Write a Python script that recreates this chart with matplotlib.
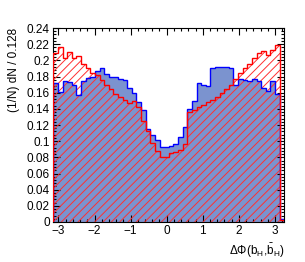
import numpy as np
import matplotlib
matplotlib.use("Agg")
import matplotlib.pyplot as plt
from matplotlib.ticker import MultipleLocator, FuncFormatter

plt.rcParams['font.family'] = ['Liberation Sans', 'DejaVu Sans']
plt.rcParams['mathtext.fontset'] = 'custom'
plt.rcParams['mathtext.rm'] = 'Liberation Sans'
plt.rcParams['mathtext.it'] = 'Liberation Sans:italic'
plt.rcParams['hatch.linewidth'] = 0.7

# 50 bins of width 0.128 starting at -pi
bin_start = -np.pi
bin_width = 0.128
n_bins = 50

blue_vals = [0.172, 0.161, 0.174, 0.173, 0.170, 0.157, 0.175, 0.178, 0.180, 0.187,
             0.190, 0.183, 0.180, 0.179, 0.177, 0.176, 0.166, 0.160, 0.148, 0.139,
             0.115, 0.108, 0.101, 0.093, 0.093, 0.094, 0.096, 0.105, 0.117, 0.140,
             0.150, 0.172, 0.170, 0.168, 0.190, 0.192, 0.192, 0.192, 0.191, 0.169,
             0.177, 0.176, 0.174, 0.177, 0.174, 0.166, 0.162, 0.175, 0.158, 0.004]

red_vals = [0.209, 0.216, 0.203, 0.210, 0.203, 0.206, 0.195, 0.190, 0.184, 0.182,
            0.176, 0.170, 0.164, 0.158, 0.155, 0.151, 0.147, 0.150, 0.142, 0.125,
            0.112, 0.098, 0.088, 0.081, 0.081, 0.085, 0.086, 0.089, 0.097, 0.136,
            0.139, 0.142, 0.145, 0.148, 0.151, 0.155, 0.159, 0.164, 0.169, 0.177,
            0.184, 0.190, 0.196, 0.203, 0.209, 0.211, 0.207, 0.213, 0.219, 0.003]

edges = bin_start + bin_width * np.arange(n_bins + 1)

fig = plt.figure(figsize=(3.05, 2.62), dpi=100)
ax = fig.add_axes([0.1748, 0.1527, 0.7573, 0.7403])

ax.stairs(blue_vals, edges, fill=True, facecolor='#7b93cf', edgecolor='none', linewidth=0, zorder=1)
ax.stairs(red_vals, edges, fill=True, facecolor='none', edgecolor='#ff3030', hatch='////', linewidth=0, zorder=2)
ax.stairs(blue_vals, edges, color='#0000ff', linewidth=1.0, zorder=3)
ax.stairs(red_vals, edges, color='#ff0000', linewidth=1.0, zorder=4)

ax.set_xlim(edges[0], edges[-1])
ax.set_ylim(0, 0.24)

ax.xaxis.set_major_locator(MultipleLocator(1))
ax.xaxis.set_minor_locator(MultipleLocator(0.2))
ax.yaxis.set_major_locator(MultipleLocator(0.02))
ax.yaxis.set_minor_locator(MultipleLocator(0.004))
ax.yaxis.set_major_formatter(FuncFormatter(lambda v, p: ('%g' % round(v, 3))))
ax.xaxis.set_major_formatter(FuncFormatter(lambda v, p: ('%g' % v).replace('-', '\u2212')))

ax.tick_params(which='both', direction='in', top=True, right=True, labelsize=8.5, width=0.8)
ax.tick_params(which='major', length=5, pad=2.5)
ax.tick_params(which='minor', length=2.5)
for s in ax.spines.values():
    s.set_linewidth(0.8)

ax.set_ylabel('(1/N) dN / 0.128', fontsize=8.5, loc='top', labelpad=5)
ax.set_xlabel(r'$\Delta\Phi$(b$_{\mathrm{H}}$,$\bar{\mathrm{b}}_{\mathrm{H}}$)', fontsize=8.5, loc='right', labelpad=3)

fig.savefig('out.png', dpi=100, facecolor='white')
